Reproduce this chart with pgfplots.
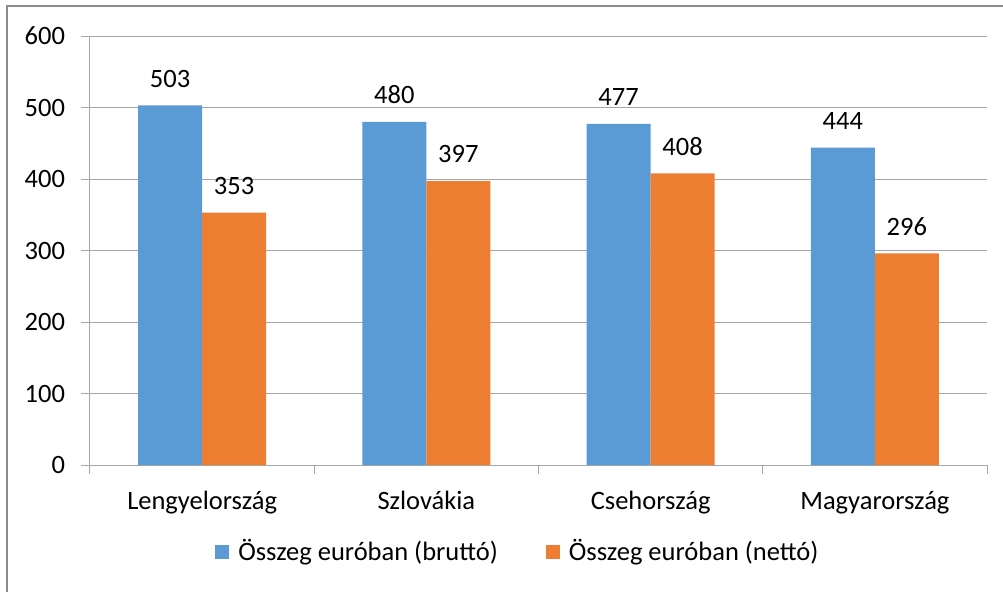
\documentclass[border=0pt]{standalone}
\usepackage{fontspec}
\setmainfont{Carlito}
\usepackage{pgfplots}
\pgfplotsset{compat=1.18}
\definecolor{cblue}{HTML}{5B9BD5}
\definecolor{corange}{HTML}{ED7D31}
\definecolor{gridc}{HTML}{A6A6A6}
\definecolor{framec}{HTML}{8C8C8C}
\begin{document}
\fontsize{26.5bp}{31bp}\selectfont
\begin{tikzpicture}
\path[use as bounding box] (-90bp,-127bp) rectangle (913bp,465bp);
\draw[framec, line width=1.2bp] (-83bp,-130bp) -- (-83bp,459bp) -- (920bp,459bp);
\begin{axis}[
  at={(0,0)}, anchor=south west,
  scale only axis, width=897bp, height=429bp,
  xmin=-0.5, xmax=3.5, ymin=0, ymax=600,
  /pgf/number format/assume math mode=true,
  ytick={0,100,...,600},
  xtick={-0.5,0.5,1.5,2.5,3.5},
  x tick label as interval,
  xticklabels={Lengyelország,Szlovákia,Csehország,Magyarország},
  axis x line*=bottom, axis y line*=left,
  axis line style={gridc, -, line width=1bp},
  ymajorgrids, grid style={gridc, line width=1bp},
  tick align=outside,
  major tick length=9bp,
  tick style={gridc, line width=1bp},
  yticklabel style={xshift=-7bp},
  xticklabel style={yshift=-8bp},
  ybar, bar width=0.2854,
  nodes near coords,
  every node near coord/.append style={text=black, yshift=9bp},
  legend style={at={(0.477,-0.203)}, anchor=center, draw=none, legend columns=2,
    /tikz/every odd column/.append style={column sep=7bp},
    /tikz/every even column/.append style={column sep=46bp}},
  legend image code/.code={\fill[#1] (0bp,-7bp) rectangle (14bp,7bp);},
]
\addplot[fill=cblue, draw=none, bar shift=-0.1427] coordinates {(0,503) (1,480) (2,477) (3,444)};
\addplot[fill=corange, draw=none, bar shift=0.1427] coordinates {(0,353) (1,397) (2,408) (3,296)};
\legend{Összeg euróban (bruttó), Összeg euróban (nettó)}
\end{axis}
\end{tikzpicture}
\end{document}
